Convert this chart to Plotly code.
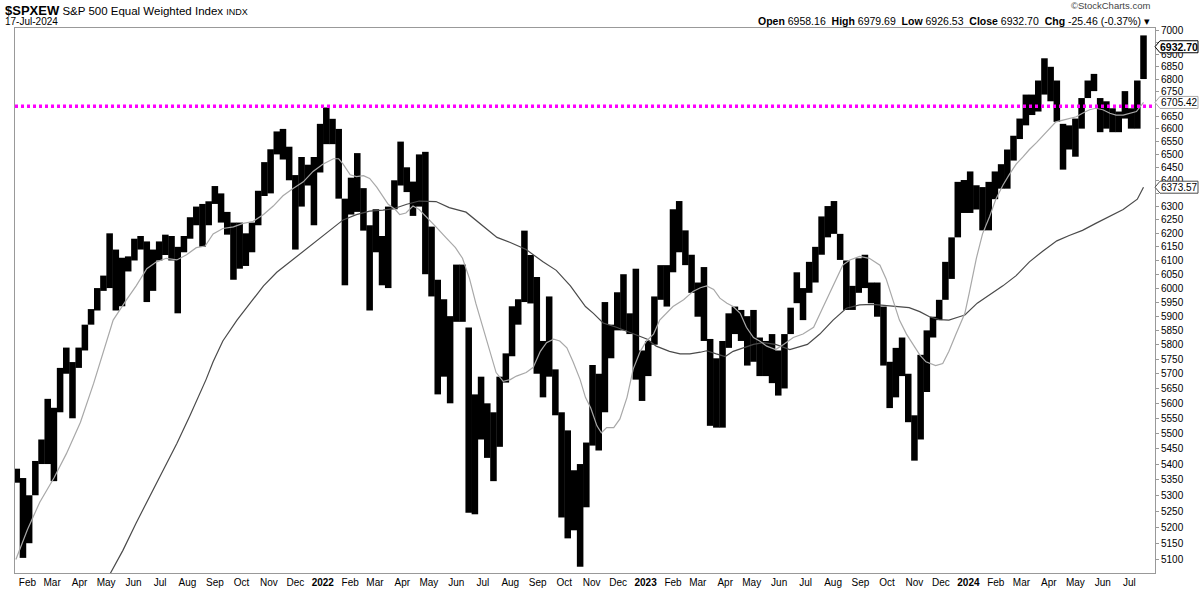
import numpy as np
import pandas as pd
import plotly.graph_objects as go

# Weekly price ranges (one value per week, week centred on Wednesday)
week_dates = pd.date_range("2021-01-20", periods=183, freq="7D")
week_high = [
    5385, 5355, 5300, 5410, 5480, 5615, 5585, 5720, 5790, 5740,
    5790, 5870, 5925, 6000, 6045, 6200, 6140, 6110, 6115, 6180,
    6190, 6170, 6140, 6170, 6195, 6190, 6150, 6190, 6260, 6300,
    6310, 6320, 6378, 6350, 6280, 6240, 6240, 6200, 6240, 6360,
    6470, 6520, 6590, 6600, 6530, 6420, 6490, 6460, 6490, 6620,
    6685, 6640, 6600, 6330, 6410, 6505, 6370, 6230, 6290, 6190,
    6300, 6400, 6550, 6450, 6395, 6500, 6510, 6225, 6030, 5960,
    5900, 6085, 6085, 5860, 5630, 5690, 5600, 5570, 5690, 5770,
    5935, 5960, 6210, 6120, 6040, 5813, 5970, 5715, 5570, 5510,
    5380, 5400, 5470, 5730, 5700, 5950, 5870, 5985, 6050, 5910,
    6070, 5780, 5813, 5970, 6083, 6083, 6290, 6321, 6211, 6121,
    6020, 6076, 5820, 5753, 5813, 5910, 5934, 5922, 5900, 5922,
    5825, 5813, 5837, 5780, 5837, 5930, 6057, 6000, 6095, 6150,
    6263, 6302, 6321, 6198, 6100, 6008, 6108, 6121, 6020, 6020,
    5934, 5741, 5789, 5825, 5700, 5560, 5765, 5850, 5898, 5958,
    6095, 6185, 6394, 6401, 6434, 6381, 6374, 6394, 6434, 6462,
    6519, 6573, 6641, 6737, 6737, 6794, 6885, 6850, 6794, 6620,
    6614, 6641, 6723, 6794, 6821, 6723, 6710, 6682, 6669, 6751,
    6682, 6794, 6980,
]
week_low = [
    5340, 5105, 5150, 5300, 5400, 5400, 5345, 5570, 5700, 5550,
    5720, 5780, 5870, 5920, 5990, 6000, 5920, 5935, 6060, 6100,
    6140, 5950, 5990, 6100, 6120, 6100, 5910, 6130, 6180, 6230,
    6150, 6230, 6310, 6240, 6195, 6030, 6070, 6080, 6130, 6230,
    6340, 6350, 6500, 6480, 6400, 6140, 6300, 6380, 6230, 6430,
    6540, 6540, 6330, 6010, 6270, 6280, 6210, 5920, 6130, 6010,
    6000, 6290, 6380, 6355, 6265, 6300, 6050, 5970, 5630, 5690,
    5600, 5880, 5880, 5245, 5240, 5480, 5420, 5345, 5456, 5670,
    5760, 5870, 5950, 5945, 5700, 5620, 5690, 5560, 5230, 5165,
    5190, 5078, 5262, 5460, 5444, 5570, 5753, 5850, 5850, 5837,
    5680, 5608, 5692, 5800, 5958, 5934, 6057, 6130, 6083, 5983,
    5898, 5813, 5525, 5519, 5519, 5789, 5837, 5813, 5728, 5741,
    5692, 5692, 5668, 5626, 5650, 5837, 5946, 5886, 5983, 6020,
    6121, 6185, 6198, 6102, 5922, 5922, 5983, 6000, 5946, 5898,
    5728, 5584, 5620, 5692, 5537, 5411, 5480, 5638, 5825, 5886,
    5958, 6033, 6185, 6276, 6276, 6289, 6211, 6211, 6328, 6368,
    6368, 6476, 6560, 6614, 6655, 6669, 6737, 6710, 6628, 6441,
    6519, 6491, 6601, 6723, 6751, 6587, 6601, 6587, 6587, 6641,
    6601, 6601, 6800,
]

# 50-day moving average (light grey)
ma50_dates = [
    "2021-01-19", "2021-02-01", "2021-02-15", "2021-03-03", "2021-03-17", "2021-04-02",
    "2021-04-17", "2021-04-28", "2021-05-09", "2021-05-24", "2021-06-04", "2021-06-16",
    "2021-06-27", "2021-07-08", "2021-07-20", "2021-07-31", "2021-08-11", "2021-08-21",
    "2021-08-30", "2021-09-10", "2021-09-22", "2021-10-03", "2021-10-14", "2021-10-26",
    "2021-11-06", "2021-11-17", "2021-11-28", "2021-12-10", "2021-12-21", "2022-01-01",
    "2022-01-13", "2022-01-19", "2022-01-24", "2022-02-01", "2022-02-08", "2022-02-16",
    "2022-02-23", "2022-03-03", "2022-03-10", "2022-03-16", "2022-03-24", "2022-03-29",
    "2022-04-05", "2022-04-13", "2022-04-20", "2022-04-28", "2022-05-09", "2022-05-20",
    "2022-05-31", "2022-06-08", "2022-06-16", "2022-06-23", "2022-07-01", "2022-07-09",
    "2022-07-16", "2022-07-24", "2022-08-01", "2022-08-08", "2022-08-19", "2022-08-27",
    "2022-09-04", "2022-09-11", "2022-09-19", "2022-09-26", "2022-10-04", "2022-10-11",
    "2022-10-19", "2022-10-25", "2022-10-31", "2022-11-07", "2022-11-12", "2022-11-18",
    "2022-11-26", "2022-12-03", "2022-12-11", "2022-12-18", "2022-12-26", "2023-01-02",
    "2023-01-10", "2023-01-17", "2023-01-25", "2023-02-01", "2023-02-13", "2023-02-24",
    "2023-03-04", "2023-03-11", "2023-03-19", "2023-03-26", "2023-04-03", "2023-04-10",
    "2023-04-18", "2023-04-25", "2023-05-03", "2023-05-10", "2023-05-18", "2023-05-28",
    "2023-06-06", "2023-06-17", "2023-06-28", "2023-07-10", "2023-07-21", "2023-08-01",
    "2023-08-12", "2023-08-20", "2023-08-31", "2023-09-11", "2023-09-23", "2023-09-30",
    "2023-10-08", "2023-10-15", "2023-10-23", "2023-10-30", "2023-11-07", "2023-11-14",
    "2023-11-25", "2023-12-03", "2023-12-10", "2023-12-18", "2023-12-28", "2024-01-02",
    "2024-01-10", "2024-01-17", "2024-01-25", "2024-02-01", "2024-02-09", "2024-02-16",
    "2024-02-24", "2024-03-03", "2024-03-10", "2024-03-18", "2024-03-25", "2024-04-02",
    "2024-04-09", "2024-04-17", "2024-04-24", "2024-05-02", "2024-05-09", "2024-05-17",
    "2024-05-24", "2024-06-01", "2024-06-09", "2024-06-16", "2024-06-24", "2024-07-02",
    "2024-07-09", "2024-07-17",
]
ma50_values = [
    5100, 5192, 5278, 5355, 5433, 5537, 5668, 5777, 5886, 5958, 6008, 6070,
    6095, 6108, 6102, 6121, 6147, 6153, 6198, 6218, 6224, 6237, 6244, 6270,
    6302, 6341, 6368, 6394, 6434, 6462, 6483, 6483, 6462, 6421, 6414, 6418,
    6407, 6374, 6341, 6309, 6289, 6270, 6276, 6302, 6289, 6263, 6224, 6185,
    6147, 6108, 6033, 5946, 5861, 5777, 5704, 5674, 5680, 5692, 5704, 5722,
    5777, 5807, 5819, 5813, 5789, 5741, 5680, 5620, 5584, 5525, 5502, 5519,
    5519, 5548, 5620, 5716, 5777, 5813, 5837, 5886, 5910, 5934, 5958, 5989,
    6001, 6008, 5995, 5964, 5946, 5934, 5910, 5861, 5825, 5813, 5795, 5783,
    5801, 5825, 5837, 5861, 5934, 6008, 6083, 6102, 6115, 6108, 6083, 6033,
    5958, 5886, 5837, 5801, 5765, 5741, 5728, 5735, 5777, 5837, 5910, 5983,
    6108, 6198, 6263, 6328, 6381, 6421, 6462, 6491, 6519, 6546, 6573, 6601,
    6628, 6635, 6641, 6648, 6662, 6676, 6682, 6676, 6662, 6655, 6655, 6662,
    6669, 6705.42,
]

# 200-day moving average (dark grey)
ma200_dates = [
    "2021-04-26", "2021-05-06", "2021-05-20", "2021-06-04", "2021-06-20", "2021-07-05",
    "2021-07-20", "2021-08-04", "2021-08-22", "2021-08-30", "2021-09-10", "2021-09-26",
    "2021-10-11", "2021-10-26", "2021-11-10", "2021-11-25", "2021-12-10", "2021-12-25",
    "2022-01-10", "2022-01-24", "2022-02-08", "2022-02-23", "2022-03-10", "2022-03-22",
    "2022-04-06", "2022-04-20", "2022-05-09", "2022-05-24", "2022-06-12", "2022-06-27",
    "2022-07-17", "2022-08-01", "2022-08-19", "2022-09-07", "2022-09-22", "2022-10-08",
    "2022-10-25", "2022-11-03", "2022-11-14", "2022-11-29", "2022-12-18", "2023-01-03",
    "2023-01-13", "2023-01-28", "2023-02-09", "2023-02-20", "2023-03-04", "2023-03-11",
    "2023-03-22", "2023-04-01", "2023-04-10", "2023-04-21", "2023-05-03", "2023-05-14",
    "2023-05-28", "2023-06-13", "2023-07-03", "2023-07-17", "2023-08-01", "2023-08-16",
    "2023-08-31", "2023-09-15", "2023-09-30", "2023-10-16", "2023-10-26", "2023-11-07",
    "2023-11-18", "2023-11-29", "2023-12-10", "2023-12-20", "2023-12-28", "2024-01-11",
    "2024-01-25", "2024-02-09", "2024-02-24", "2024-03-10", "2024-03-25", "2024-04-10",
    "2024-04-24", "2024-05-09", "2024-05-24", "2024-06-09", "2024-06-24", "2024-07-10",
    "2024-07-17",
]
ma200_values = [
    5010, 5057, 5128, 5213, 5300, 5378, 5467, 5560, 5680, 5741, 5813, 5886,
    5946, 6008, 6057, 6095, 6134, 6172, 6211, 6250, 6270, 6283, 6287, 6292,
    6309, 6321, 6319, 6296, 6279, 6237, 6185, 6166, 6140, 6095, 6064, 6008,
    5934, 5910, 5876, 5861, 5837, 5819, 5795, 5777, 5768, 5768, 5774, 5779,
    5768, 5759, 5777, 5789, 5801, 5807, 5801, 5783, 5801, 5837, 5886, 5928,
    5940, 5942, 5937, 5934, 5930, 5916, 5898, 5888, 5886, 5896, 5904, 5946,
    5977, 6008, 6045, 6095, 6134, 6172, 6192, 6211, 6237, 6263, 6289, 6328,
    6373.57,
]

level_line = 6690          # magenta dotted horizontal line
last_open, last_high, last_low, last_close = "6958.16", "6979.69", "6926.53", "6932.70"
last_chg, last_chg_pct = "-25.46", "-0.37%"
ma50_last, ma200_last = "6705.42", "6373.57"

x_range = ["2021-01-18", "2024-07-30"]
y_lo, y_hi = 5059, 7011
y_ticks = list(range(5100, 7001, 50))
hidden_ticks = {6950, 6700, 6350}      # sit under the value tags
month_starts = pd.date_range("2021-02-01", "2024-07-01", freq="MS")
month_text = [f"<b>{d.year}</b>" if d.month == 1 else d.strftime("%b") for d in month_starts]

FONT = "Liberation Sans, Arial, sans-serif"
L0, L1 = np.log10(y_lo), np.log10(y_hi)


def _frac(v):
    return (np.log10(v) - L0) / (L1 - L0)


fig = go.Figure()

fig.add_trace(go.Bar(
    x=week_dates,
    base=week_low,
    y=[h - l for h, l in zip(week_high, week_low)],
    width=7.4 * 86400000,
    marker=dict(color="#000000", line=dict(width=0)),
    hoverinfo="skip",
))
fig.add_trace(go.Scatter(
    x=ma200_dates, y=ma200_values, mode="lines",
    line=dict(color="#4a4a4a", width=1.2), hoverinfo="skip",
))
fig.add_trace(go.Scatter(
    x=ma50_dates, y=ma50_values, mode="lines",
    line=dict(color="#a8a8a8", width=1.2), hoverinfo="skip",
))
fig.add_trace(go.Scatter(
    x=x_range, y=[level_line, level_line], mode="lines",
    line=dict(color="#ff00ff", width=3.5, dash="3px,3px"), hoverinfo="skip",
))

# value tags on the right axis
shapes, annotations = [], []
for val, txt, col, bold in [
    (float(last_close), last_close, "#000000", True),
    (float(ma50_last), ma50_last, "#a8a8a8", False),
    (float(ma200_last), ma200_last, "#4a4a4a", False),
]:
    shapes.append(dict(
        type="path", xref="paper", yref="paper",
        xsizemode="pixel", ysizemode="pixel", xanchor=1, yanchor=_frac(val),
        path="M0,0 L5,6 L43,6 L43,-6 L5,-6 Z",
        line=dict(color=col, width=1), fillcolor="white", layer="above",
    ))
    annotations.append(dict(
        x=1, xref="paper", xanchor="center", xshift=24,
        y=_frac(val), yref="paper", yanchor="middle",
        text=f"<b>{txt}</b>" if bold else txt, showarrow=False,
        font=dict(family=FONT, size=10.5 if bold else 10, color="#000000"),
    ))

# header texts
annotations += [
    dict(x=-0.0105, y=1.0324, xref="paper", yref="paper", xanchor="left", yanchor="middle",
         showarrow=False, align="left",
         text="<span style='font-size:13px'><b>$SPXEW</b></span> S&amp;P 500 Equal Weighted Index "
              "<span style='font-size:9px'>INDX</span>",
         font=dict(family=FONT, size=11.5, color="#000000")),
    dict(x=-0.0105, y=1.0126, xref="paper", yref="paper", xanchor="left", yanchor="middle",
         showarrow=False, text="17-Jul-2024",
         font=dict(family=FONT, size=10, color="#000000")),
    dict(x=0.9974, y=1.0405, xref="paper", yref="paper", xanchor="right", yanchor="middle",
         showarrow=False, text="©StockCharts.com",
         font=dict(family=FONT, size=9.5, color="#444444")),
    dict(x=0.9974, y=1.0126, xref="paper", yref="paper", xanchor="right", yanchor="middle",
         showarrow=False,
         text=(f"<b>Open</b> {last_open}&nbsp; <b>High</b> {last_high}&nbsp; <b>Low</b> {last_low}&nbsp; "
               f"<b>Close</b> {last_close}&nbsp; <b>Chg</b> {last_chg} ({last_chg_pct}) ▾"),
         font=dict(family=FONT, size=10.5, color="#000000")),
]

fig.update_layout(
    width=1200, height=600, autosize=False,
    margin=dict(l=15, r=45, t=28, b=17),
    paper_bgcolor="white", plot_bgcolor="white",
    showlegend=False,
    font=dict(family=FONT, size=10, color="#000000"),
    shapes=shapes, annotations=annotations,
    xaxis=dict(
        type="date", range=x_range, tickvals=month_starts, ticktext=month_text,
        showgrid=False, zeroline=False, ticks="",
        showline=True, linecolor="#999999", linewidth=1, mirror=True,
        tickfont=dict(family=FONT, size=10, color="#000000"),
    ),
    yaxis=dict(
        type="log", side="right", range=[L0, L1],
        tickvals=y_ticks, ticktext=["" if t in hidden_ticks else str(t) for t in y_ticks],
        showgrid=False, zeroline=False,
        ticks="outside", ticklen=3, tickcolor="#999999",
        showline=True, linecolor="#999999", linewidth=1, mirror=True,
        tickfont=dict(family=FONT, size=10, color="#000000"),
    ),
)

# drop the default 8px page margin so the figure sits at the window's corner
fig.write_html(
    "out.html",
    config={"displayModeBar": False},
    post_script="document.body.style.margin='0';",
)
